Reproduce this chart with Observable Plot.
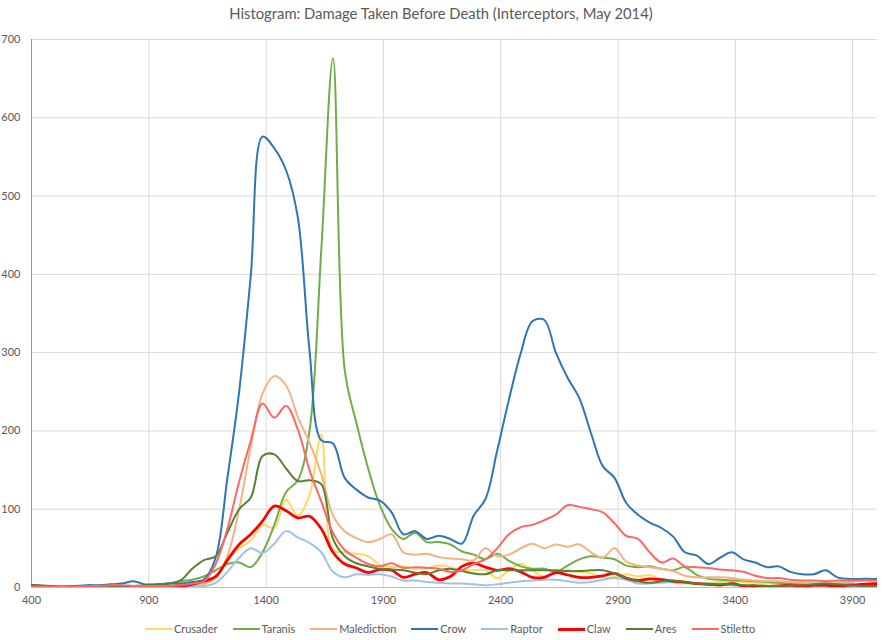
<!DOCTYPE html>
<html>
<head>
<meta charset="utf-8">
<script src="https://cdn.jsdelivr.net/npm/d3@7"></script>
<script src="https://cdn.jsdelivr.net/npm/@observablehq/plot@0.6"></script>
<style>
  body { margin: 0; background: #fff; width: 882px; font-family: Lato, "Open Sans", sans-serif; }
  #title { height: 30px; line-height: 26px; text-align: center; font-size: 14.8px; color: #595959; }
  #chart svg { display: block; }
  #legend { display: flex; justify-content: center; gap: 15px; margin-top: 9px; font-size: 11px; color: #595959; line-height: 16px; padding-left: 18px; }
  .item { display: flex; align-items: center; gap: 2px; }
  .sw { width: 27px; }
</style>
</head>
<body>
<div id="title">Histogram: Damage Taken Before Death (Interceptors, May 2014)</div>
<div id="chart"></div>
<div id="legend"></div>
<script>
const seriesNames = ["Crusader", "Taranis", "Malediction", "Crow", "Raptor", "Claw", "Ares", "Stiletto"];
const seriesColors = ["#ffd966", "#70ad47", "#f4b183", "#2e75b6", "#9dc3e6", "#ff0000", "#548235", "#ff6666"];
const xTicks = [400, 900, 1400, 1900, 2400, 2900, 3400, 3900];
const yTicks = [0, 100, 200, 300, 400, 500, 600, 700];

const bins = [
  385, 435, 485, 535, 585, 635, 685, 735, 785, 835,
  885, 935, 985, 1035, 1085, 1135, 1185, 1235, 1285, 1335,
  1385, 1435, 1485, 1535, 1585, 1635, 1685, 1735, 1785, 1835,
  1885, 1935, 1985, 2035, 2085, 2135, 2185, 2235, 2285, 2335,
  2385, 2435, 2485, 2535, 2585, 2635, 2685, 2735, 2785, 2835,
  2885, 2935, 2985, 3035, 3085, 3135, 3185, 3235, 3285, 3335,
  3385, 3435, 3485, 3535, 3585, 3635, 3685, 3735, 3785, 3835,
  3885, 3935, 3985, 4035
];

const crusader = [
  1, 1, 1, 1, 2, 2, 2, 2, 1, 1,
  1, 1, 1, 1, 2, 4, 12, 35, 50, 60,
  80, 76, 112, 92, 118, 195, 48, 45, 43, 40,
  29, 26, 27, 24, 25, 28, 26, 22, 22, 22,
  12, 22, 30, 22, 14, 20, 22, 20, 18, 13,
  13, 17, 14, 16, 10, 6, 5, 5, 6, 7,
  8, 7, 6, 5, 5, 4, 4, 4, 4, 4,
  3, 3, 3, 3
];
const taranis = [
  2, 2, 1, 1, 1, 1, 1, 1, 1, 1,
  2, 3, 5, 8, 10, 14, 22, 30, 32, 26,
  45, 80, 122, 137, 200, 430, 676, 278, 210, 152,
  105, 75, 62, 70, 58, 58, 55, 46, 42, 36,
  43, 34, 27, 24, 24, 20, 28, 36, 40, 38,
  36, 28, 26, 27, 24, 22, 26, 16, 11, 10,
  9, 9, 8, 7, 6, 5, 5, 5, 5, 4,
  4, 3, 3, 3
];
const malediction = [
  1, 1, 1, 1, 1, 1, 1, 1, 1, 1,
  2, 2, 2, 3, 3, 5, 12, 40, 100, 180,
  248, 270, 258, 218, 185, 145, 92, 72, 63, 58,
  62, 68, 45, 42, 43, 39, 37, 36, 35, 50,
  40, 42, 50, 56, 50, 55, 52, 55, 45, 38,
  50, 33, 28, 26, 24, 21, 15, 13, 13, 13,
  12, 10, 9, 8, 8, 7, 6, 5, 5, 6,
  7, 9, 10, 10
];
const crow = [
  3, 2, 1, 1, 2, 3, 3, 4, 5, 8,
  4, 4, 5, 5, 7, 10, 38, 140, 250, 400,
  576, 561, 533, 473, 303, 188, 184, 140, 125, 115,
  111, 96, 68, 72, 62, 66, 62, 56, 92, 113,
  175, 240, 299, 340, 342, 300, 268, 242, 197, 155,
  140, 108, 93, 83, 76, 65, 45, 41, 30, 38,
  45, 36, 32, 26, 27, 20, 17, 17, 22, 13,
  11, 11, 11, 10
];
const raptor = [
  0, 0, 0, 0, 0, 0, 0, 0, 0, 0,
  0, 0, 0, 1, 1, 2, 6, 20, 38, 50,
  44, 56, 72, 64, 57, 45, 20, 13, 17, 16,
  17, 14, 9, 9, 7, 6, 5, 5, 4, 3,
  4, 6, 8, 9, 10, 10, 8, 6, 7, 10,
  12, 10, 5, 5, 6, 7, 6, 5, 5, 4,
  3, 2, 2, 2, 2, 2, 2, 2, 2, 2,
  2, 2, 2, 2
];
const claw = [
  0, 0, 0, 0, 0, 0, 0, 0, 0, 0,
  0, 0, 1, 2, 4, 8, 14, 35, 55, 68,
  85, 104, 98, 89, 91, 75, 45, 30, 25, 19,
  23, 22, 13, 17, 19, 10, 14, 27, 31, 26,
  22, 24, 20, 13, 13, 19, 16, 13, 13, 15,
  18, 12, 9, 11, 10, 8, 7, 5, 4, 3,
  5, 2, 1, 1, 2, 3, 2, 3, 3, 2,
  3, 4, 5, 5
];
const ares = [
  3, 3, 2, 1, 1, 1, 1, 1, 2, 2,
  3, 4, 5, 9, 24, 35, 40, 70, 100, 115,
  168, 170, 152, 136, 137, 132, 62, 40, 31, 27,
  24, 23, 22, 19, 17, 22, 24, 21, 18, 17,
  22, 22, 22, 22, 22, 22, 21, 21, 22, 22,
  18, 12, 8, 6, 8, 9, 7, 5, 4, 4,
  4, 3, 3, 2, 2, 3, 3, 4, 5, 4,
  3, 2, 2, 2
];
const stiletto = [
  1, 1, 1, 1, 1, 2, 2, 3, 3, 2,
  2, 2, 2, 3, 5, 8, 30, 75, 135, 188,
  235, 217, 232, 202, 150, 110, 70, 48, 38, 30,
  27, 31, 25, 26, 25, 24, 20, 22, 30, 36,
  50, 68, 77, 80, 86, 93, 105, 103, 100, 96,
  82, 66, 62, 45, 32, 37, 27, 26, 25, 23,
  22, 20, 15, 12, 12, 10, 9, 9, 8, 9,
  9, 9, 9, 9
];

const seriesValues = [crusader, taranis, malediction, crow, raptor, claw, ares, stiletto];
const widths = [2, 2, 2, 2, 2, 2.75, 2, 2];

const lineMarks = seriesValues.map((vals, i) =>
  Plot.line(bins.map((b, j) => ({x: b, y: vals[j]})), {
    x: "x", y: "y", stroke: seriesColors[i], strokeWidth: widths[i],
    curve: "catmull-rom", clip: true
  })
);

const chart = Plot.plot({
  width: 882,
  height: 582,
  marginTop: 9,
  marginLeft: 31,
  marginRight: 5,
  marginBottom: 25,
  style: {fontFamily: "Lato, 'Open Sans', sans-serif", fontSize: "11px", color: "#595959", background: "#fff"},
  x: {domain: [400, 4006], label: null},
  y: {domain: [0, 700], label: null},
  marks: [
    Plot.gridX(xTicks, {stroke: "#d9d9d9", strokeOpacity: 1}),
    Plot.gridY(yTicks, {stroke: "#d9d9d9", strokeOpacity: 1}),
    Plot.axisX(xTicks, {tickSize: 0, tickPadding: 9, tickFormat: d => String(d), fontSize: 11}),
    Plot.axisY(yTicks, {tickSize: 0, tickPadding: 11, tickFormat: d => String(d), fontSize: 11}),
    Plot.ruleY([0], {stroke: "#bfbfbf"}),
    Plot.ruleX([400], {stroke: "#ee7070"}),
    ...lineMarks
  ]
});
document.getElementById("chart").appendChild(chart);

const legend = document.getElementById("legend");
seriesNames.forEach((name, i) => {
  const item = document.createElement("div");
  item.className = "item";
  const sw = document.createElement("div");
  sw.className = "sw";
  sw.style.height = (i === 5 ? 3 : 2) + "px";
  sw.style.background = seriesColors[i];
  const label = document.createElement("span");
  label.textContent = name;
  item.appendChild(sw);
  item.appendChild(label);
  legend.appendChild(item);
});
</script>
</body>
</html>
